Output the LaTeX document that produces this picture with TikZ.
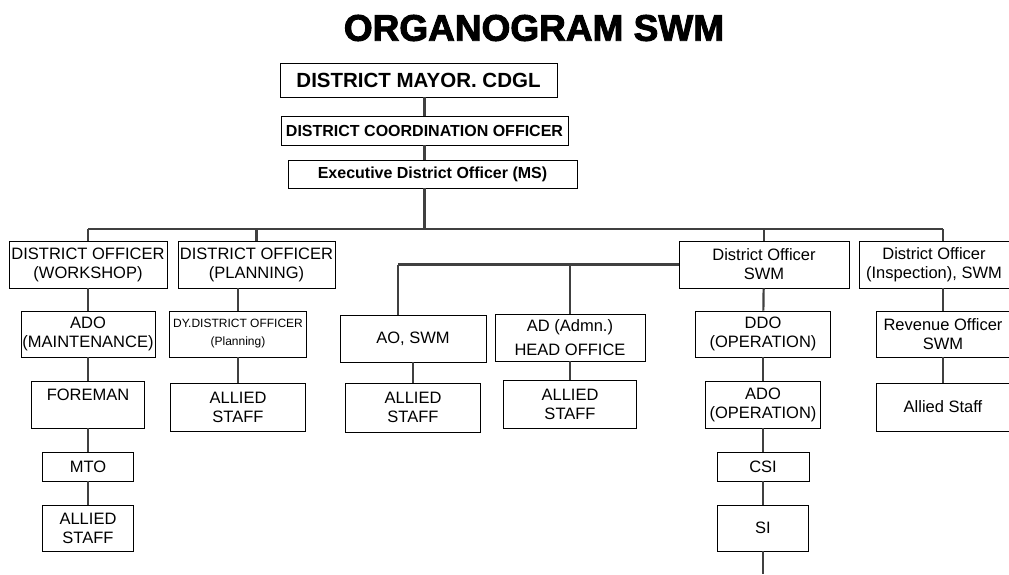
\documentclass[tikz,border=0pt]{standalone}
\usepackage{fontspec}
\setmainfont{Liberation Sans}
\newfontfamily\heavyfont[FakeBold=2.5]{Liberation Sans Bold}
\usepackage{tikz}
\tikzstyle{post}=[draw,line width=.8pt,align=center,inner sep=1pt,font=\fontsize{16.5}{19}\selectfont]
\tikzstyle{chief}=[post,font=\bfseries\fontsize{16}{19}\selectfont]
\tikzstyle{link}=[line width=2.2pt,draw=black!75]
\begin{document}
\begin{tikzpicture}[x=1pt,y=-1pt]
	\useasboundingbox (0,0) rectangle (1009,574);
	\node[font=\heavyfont\fontsize{37}{40}\selectfont] (title) at (534,28) {ORGANOGRAM SWM};
	% top of the chain
	\node[chief,font=\bfseries\fontsize{20.5}{24}\selectfont,minimum width=277,minimum height=34] (mayor) at (418.5,80) {DISTRICT MAYOR. CDGL};
	\node[chief,minimum width=287,minimum height=29] (dco) at (424.5,130.5) {DISTRICT COORDINATION OFFICER};
	\node[chief,minimum width=289,minimum height=28] (edo) at (432.5,174) {Executive District Officer (MS)};
	\coordinate (busL) at (88,229);
	\coordinate (busR) at (943,229);
	% district officers
	\node[post,minimum width=158,minimum height=47] (work) at (88,264.5) {DISTRICT OFFICER\\(WORKSHOP)};
	\node[post,minimum width=157,minimum height=47] (plan) at (256.5,264.5) {DISTRICT OFFICER\\(PLANNING)};
	\node[post,minimum width=170,minimum height=47] (doswm) at (764,264.5) {District Officer\\SWM};
	\node[post,minimum width=150,minimum height=47] (insp) at (934,264.5) {District Officer\\(Inspection), SWM};
	\coordinate (barL) at (398,264.5);
	% workshop column
	\node[post,minimum width=134,minimum height=46] (adom) at (88,334) {ADO\\(MAINTENANCE)};
	\node[post,minimum width=113,minimum height=47] (fore) at (88,404.5) {FOREMAN\\\mbox{}};
	\node[post,minimum width=91,minimum height=29] (mto) at (88,466.5) {MTO};
	\node[post,minimum width=91,minimum height=46] (mtostaff) at (88,528) {ALLIED\\STAFF};
	% planning column
	\node[post,minimum width=137,minimum height=46] (dy) at (238,334) {{\fontsize{12}{14}\selectfont DY.DISTRICT OFFICER}\\[-1pt]{\fontsize{12}{13}\selectfont (Planning)}};
	\node[post,minimum width=135,minimum height=48] (dystaff) at (238,407) {ALLIED\\STAFF};
	% head office
	\node[post,minimum width=146,minimum height=47] (ao) at (413,338.5) {AO, SWM};
	\node[post,minimum width=135,minimum height=49] (aostaff) at (413,407.5) {ALLIED\\STAFF};
	\node[post,minimum width=150,minimum height=47] (ad) at (570,337.5) {AD (Admn.)\\[5pt]HEAD OFFICE};
	\node[post,minimum width=133,minimum height=48] (adstaff) at (570,404) {ALLIED\\STAFF};
	% operation column
	\node[post,minimum width=135,minimum height=46] (ddo) at (763,334) {DDO\\(OPERATION)};
	\node[post,minimum width=115,minimum height=47] (adoop) at (763,404.5) {ADO\\(OPERATION)};
	\node[post,minimum width=92,minimum height=29] (csi) at (763,466.5) {CSI};
	\node[post,minimum width=91,minimum height=46] (si) at (763,528) {SI};
	\coordinate (siend) at (763,574);
	% inspection column
	\node[post,minimum width=134,minimum height=46] (rev) at (943,334) {Revenue Officer\\SWM};
	\node[post,minimum width=134,minimum height=48] (revstaff) at (943,407) {Allied Staff};
	% connectors
	\draw[link] (mayor.south -| dco.north) -- (dco.north);
	\draw[link] (dco.south) -- (dco.south |- edo.north);
	\draw[link] (dco.south |- edo.south) -- (dco.south |- busL);
	\draw[link] (busL) -- (busR);
	\draw[link] (busL) -- (work.north);
	\draw[link] (plan.north |- busL) -- (plan.north);
	\draw[link] (doswm.north |- busL) -- (doswm.north);
	\draw[link] (busR) -- (busR |- insp.north);
	\draw[link] (work) -- (adom);
	\draw[link] (adom) -- (fore);
	\draw[link] (fore) -- (mto);
	\draw[link] (mto) -- (mtostaff);
	\draw[link] (plan.south -| dy.north) -- (dy.north);
	\draw[link] (dy) -- (dystaff);
	\draw[link] (doswm.west) -- (barL);
	\draw[link] (barL) -- (barL |- ao.north);
	\draw[link] (ad.north |- barL) -- (ad.north);
	\draw[link] (ao) -- (aostaff);
	\draw[link] (ad) -- (adstaff);
	\draw[link] (doswm) -- (ddo);
	\draw[link] (ddo) -- (adoop);
	\draw[link] (adoop) -- (csi);
	\draw[link] (csi) -- (si);
	\draw[link] (si) -- (siend);
	\draw[link] (busR |- insp.south) -- (rev.north);
	\draw[link] (rev) -- (revstaff);
\end{tikzpicture}
\end{document}
